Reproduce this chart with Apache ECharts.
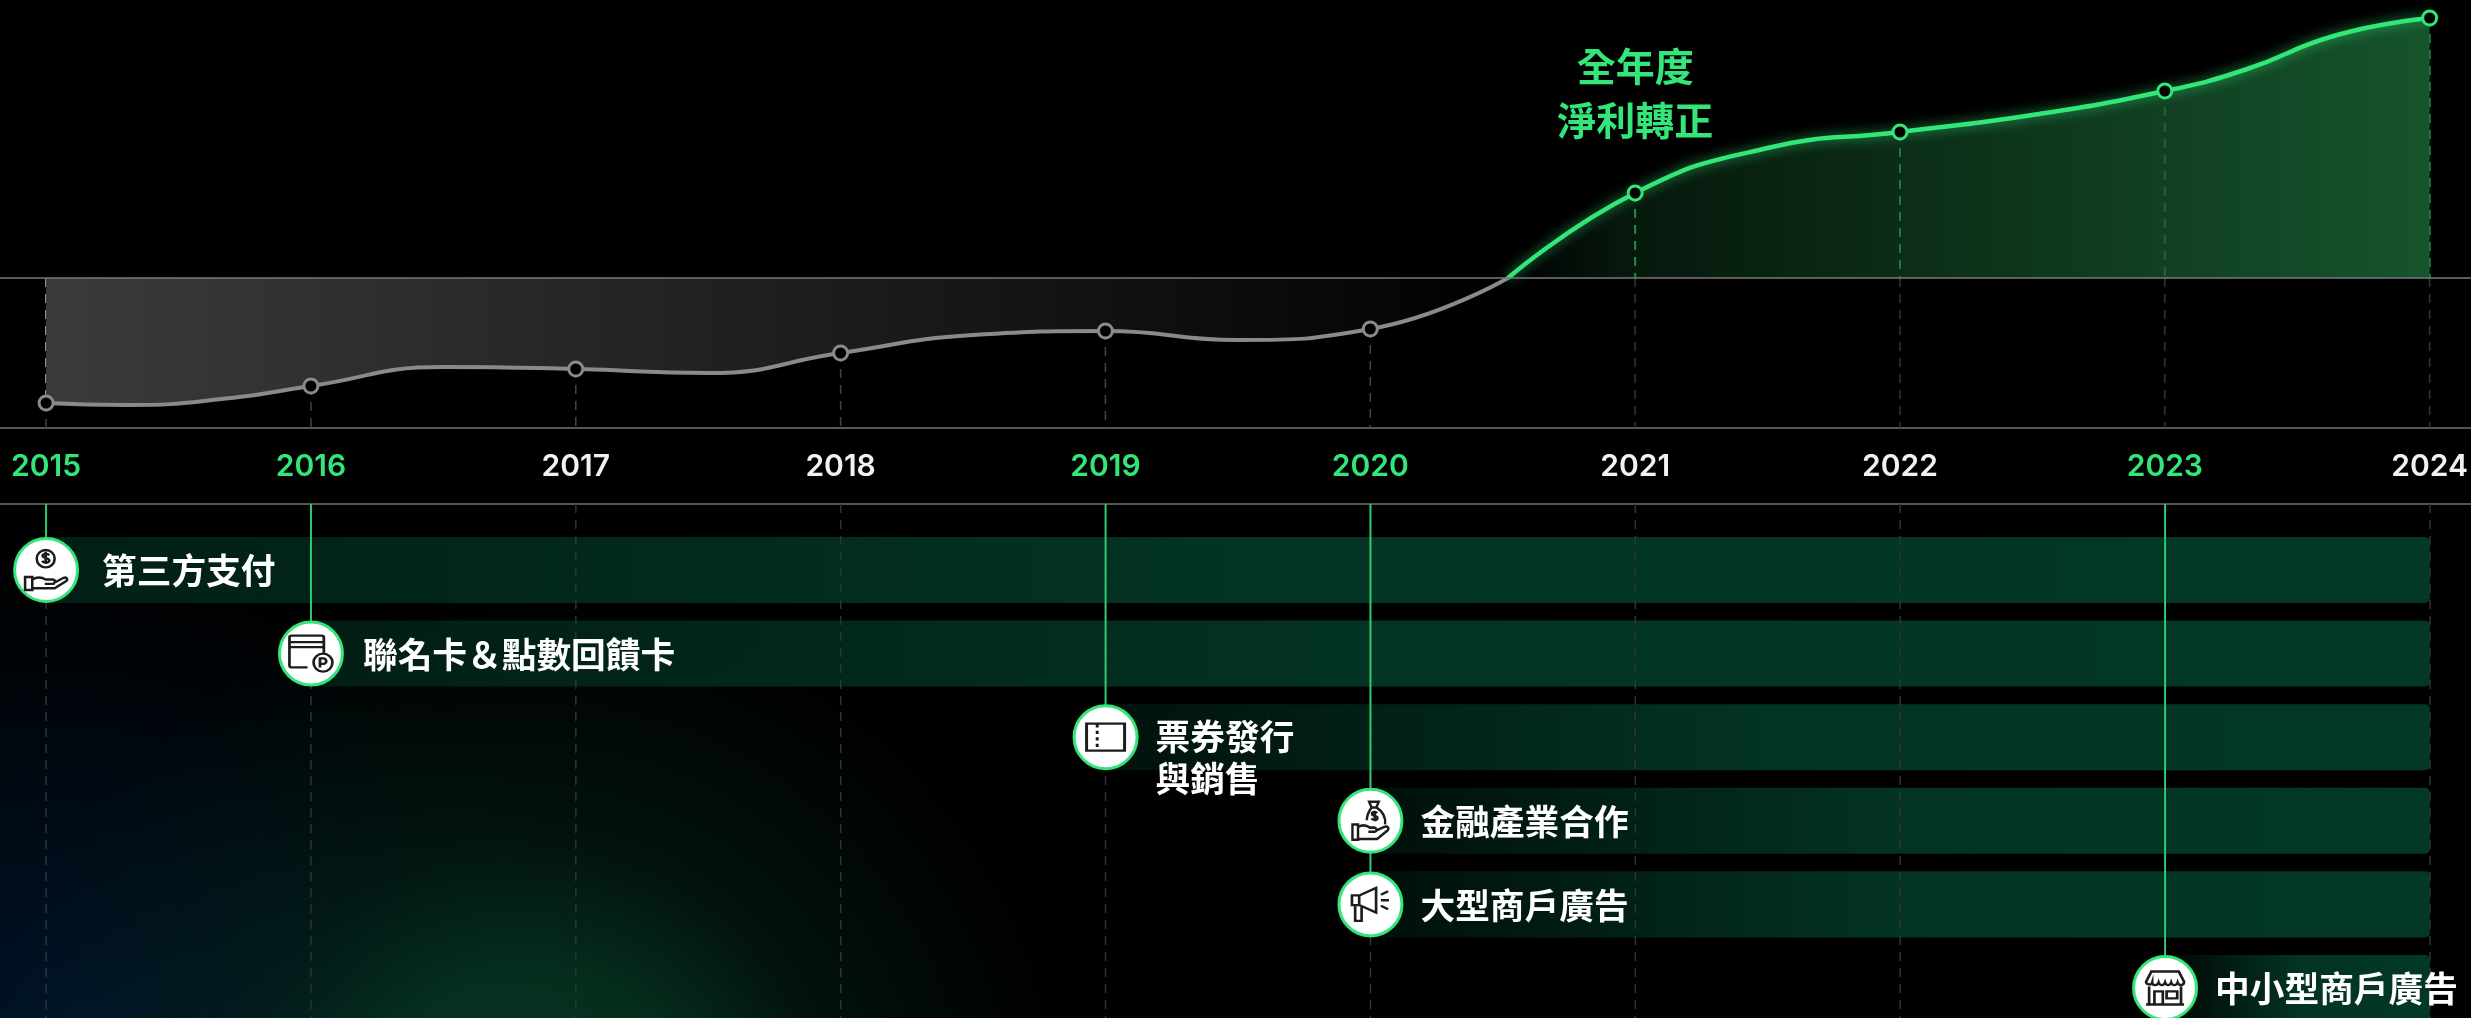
<!DOCTYPE html>
<html><head><meta charset="utf-8">
<style>html,body{margin:0;padding:0;background:#000;overflow:hidden}#c{width:2471px;height:1018px}</style>
<script src="https://cdn.jsdelivr.net/npm/echarts@6/dist/echarts.min.js"></script>
</head><body><div id="c"></div>
<script>
const years=[2015,2016,2017,2018,2019,2020,2021,2022,2023,2024];
const highlightYears=[2015,2016,2019,2020,2023];
const netValues=[-125,-108,-91,-75,-53,-51,85,146,187,260];
const lossCurveYears=[2015,2015.3,2015.7,2016,2016.5,2017,2017.5,2018,2018.5,2019,2019.5,2020,2020.52];
const lossCurveValues=[-125,-127,-120,-108,-89,-91,-95,-75,-57,-53,-62,-51,0];
const profitCurveYears=[2020.52,2021,2021.5,2022,2022.5,2023,2023.3,2023.65,2024];
const profitCurveValues=[0,85,130,146,163,187,208,243,260];
const serviceNames=['第三方支付','聯名卡＆點數回饋卡','票券發行\n與銷售','金融產業合作','大型商戶廣告','中小型商戶廣告'];
const serviceStartYears=[2015,2016,2019,2020,2020,2023];
const serviceEndYear=2024;
const noteText='全年度\n淨利轉正';
const noteAnchor=[2021,185];

const GREEN='#33e67a',GRAY='#8a8a8a';
const icons=[
 {s:[42,40],p:'M50 4a20 20 0 1 0 .01 0zM58 16c-3-4-14-4-15 1s15 5 15 11-13 6-16 1M50 8v28M4 66h16v30H4zM20 72c10-6 20-6 30 0h16c6 1 6 9 0 10H48M68 80l22-12c8-3 10 4 5 8L70 92H20'},
 {s:[43,36],p:'M5 2h70a5 5 0 0 1 5 5v40M42 80H5a5 5 0 0 1-5-5V7a5 5 0 0 1 5-5M0 18h80M0 30h80M78 46a22 22 0 1 0 .01 0zM71 80V58h8a6 6 0 0 1 0 13h-8'},
 {s:[38,27],p:'M0 0h100v100H0zM28 0v14M28 26v12M28 50v12M28 74v12M22 0h12M22 100h12'},
 {s:[36,38],p:'M46 2h24l-6 14H52zM52 16h12c16 10 24 26 22 42M40 48c0-14 6-24 12-32M66 30c-3-4-13-3-13 2s14 4 14 10-12 6-15 1M60 24v26M4 58h14v38H4zM18 64c12-6 22-4 30 2h12c6 2 6 9 0 10H44M62 74l22-10c8-3 14 3 8 9L66 94H18'},
 {s:[37,33],p:'M0 24h18v28H0zM18 24L60 2v72L18 52M8 52v46h16V56M72 22l18-10M72 38h20M72 54l18 10'},
 {s:[38,33],p:'M14 0h72l14 30c0 12-14 12-17 2-3 10-14 10-17 0-3 10-13 10-16 0-3 10-14 10-17 0-3 10-17 10-17 0-3 10-16 6-16-2zM8 44v52h84V44M0 96h100M22 96V58h22v38M54 58h28v20H54z'}
];
// horizontal scale: chosen so years land at the reference's x positions
const xMin=2014.826,xMax=2024.155;

const circleData=serviceNames.map((n,i)=>({
  value:[serviceStartYears[i],i],name:n,
  label:{offset:[i===0?6:(i===1?2:0), (n.includes('\n')?21:1)]}
}));
const iconData=serviceNames.map((n,i)=>({
  value:[serviceStartYears[i],i],symbol:'path://'+icons[i].p,symbolSize:icons[i].s
}));

const chart=echarts.init(document.getElementById('c'),null,{renderer:'canvas'});
chart.setOption({
 animation:false,
 backgroundColor:'#000',
 graphic:[
  {type:'rect',z:0,silent:true,shape:{x:0,y:504,width:1300,height:514},style:{fill:new echarts.graphic.RadialGradient(60,1100,560,[{offset:0,color:'rgba(0,26,58,0.85)'},{offset:0.45,color:'rgba(0,24,48,0.5)'},{offset:1,color:'rgba(0,18,36,0)'}],true)}},
  {type:'rect',z:1,silent:true,shape:{x:0,y:504,width:1300,height:514},style:{fill:new echarts.graphic.RadialGradient(530,1140,550,[{offset:0,color:'rgba(6,54,34,0.95)'},{offset:0.3,color:'rgba(6,54,34,0.85)'},{offset:0.55,color:'rgba(6,50,32,0.38)'},{offset:1,color:'rgba(4,40,24,0)'}],true)}}
 ],
 grid:[
  {left:0,right:0,top:0,height:428},
  {left:0,right:0,top:504,height:514}
 ],
 xAxis:[
  {type:'value',gridIndex:0,min:xMin,max:xMax,position:'bottom',splitLine:{show:false},axisTick:{show:false},
   axisLine:{show:true,onZero:false,lineStyle:{color:'#555',width:2}},
   axisLabel:{customValues:years,margin:24,hideOverlap:false,fontFamily:'Inter',fontSize:30,fontWeight:600,
     formatter:v=>String(v),color:v=>highlightYears.includes(+v)?GREEN:'#f2f2f2'}},
  {type:'value',gridIndex:1,min:xMin,max:xMax,position:'top',splitLine:{show:false},axisTick:{show:false},axisLabel:{show:false},
   axisLine:{show:true,onZero:false,lineStyle:{color:'#555',width:2}}}
 ],
 yAxis:[
  {type:'value',gridIndex:0,min:-150,max:278,show:false,splitLine:{show:false}},
  {type:'value',gridIndex:1,inverse:true,min:-0.789,max:5.359,show:false,splitLine:{show:false}}
 ],
 series:[
  {type:'line',name:'loss',xAxisIndex:0,yAxisIndex:0,z:3,smooth:0.5,symbol:'none',clip:false,
   data:lossCurveYears.map((y,i)=>[y,lossCurveValues[i]]),
   lineStyle:{color:GRAY,width:4},
   areaStyle:{origin:0,opacity:1,color:new echarts.graphic.LinearGradient(0,0,1,0,[{offset:0,color:'#3b3b3b'},{offset:0.92,color:'#060606'},{offset:1,color:'#000'}])},
   markLine:{silent:true,symbol:'none',label:{show:false},animation:false,lineStyle:{color:'#7a7a7a',width:1.5,type:'solid'},data:[{yAxis:0}]}},
  {type:'line',name:'profit',xAxisIndex:0,yAxisIndex:0,z:3,smooth:0.5,symbol:'none',clip:false,
   data:profitCurveYears.map((y,i)=>[y,profitCurveValues[i]]),
   lineStyle:{color:GREEN,width:4.5,shadowBlur:12,shadowColor:'rgba(51,230,122,0.75)'},
   areaStyle:{origin:0,opacity:1,color:new echarts.graphic.LinearGradient(0,0,1,0,[{offset:0,color:'rgba(22,84,44,0)'},{offset:0.12,color:'rgba(22,84,44,0.28)'},{offset:1,color:'rgba(22,84,44,1)'}])}},
  {type:'custom',name:'drops',xAxisIndex:0,yAxisIndex:0,z:2,clip:false,silent:true,
   data:years.map((y,i)=>[y,netValues[i]]),encode:{x:0,y:1},
   renderItem:(params,api)=>{
     const v=api.value(1),x=api.coord([api.value(0),0])[0];
     const y0=api.coord([0,0])[1],yv=api.coord([0,v])[1],yb=params.coordSys.y+params.coordSys.height;
     const L=(a,b,c,w)=>({type:'line',shape:{x1:x,y1:a,x2:x,y2:b},style:{stroke:c,lineWidth:w,lineDash:[9,7]}});
     return {type:'group',children:v<0
       ?[L(y0,yv,'#9a9a9a',2),L(yv,yb,'#444',1.5)]
       :[L(yv,y0,'#25a35a',2),L(y0,yb,'#333',1.5)]};
   }},
  {type:'scatter',name:'years',xAxisIndex:0,yAxisIndex:0,z:5,clip:false,symbolSize:14,
   data:years.map((y,i)=>({value:[y,netValues[i]],itemStyle:{color:'#000',opacity:1,borderWidth:3,borderColor:netValues[i]<0?GRAY:GREEN}}))},
  {type:'scatter',name:'note',xAxisIndex:0,yAxisIndex:0,z:6,symbolSize:1,itemStyle:{color:'rgba(0,0,0,0)',opacity:1},
   data:[{value:noteAnchor}],
   label:{show:true,position:'inside',opacity:1,formatter:()=>noteText,color:GREEN,fontFamily:'Noto Sans CJK TC',fontSize:39,fontWeight:700,lineHeight:54,align:'center',verticalAlign:'middle'}},
  {type:'custom',name:'bars',xAxisIndex:1,yAxisIndex:1,z:2,clip:true,silent:true,
   data:serviceStartYears.map((s,i)=>[s,serviceEndYear,i]),encode:{x:[0,1],y:2},
   renderItem:(params,api)=>{
     const a=api.coord([api.value(0),api.value(2)]),b=api.coord([api.value(1),api.value(2)]);
     const h=api.size([0,1])[1]*0.79;
     const len=api.value(1)-api.value(0);
     const start=0.05+0.5*len/9;
     return {type:'rect',shape:{x:a[0],y:a[1]-h/2,width:b[0]-a[0],height:h,r:[0,5,5,0]},
       style:{fill:new echarts.graphic.LinearGradient(0,0,1,0,[{offset:0,color:`rgba(3,56,38,${start})`},{offset:0.5,color:'rgba(3,56,38,0.92)'},{offset:1,color:'rgba(3,56,38,1)'}])}};
   }},
  {type:'custom',name:'guides',xAxisIndex:1,yAxisIndex:1,z:3,clip:true,silent:true,
   data:years.map(y=>[y,serviceStartYears.lastIndexOf(y)]),encode:{x:0,y:1},
   renderItem:(params,api)=>{
     const yr=api.value(0),row=api.value(1),x=api.coord([yr,0])[0];
     const top=params.coordSys.y,bot=top+params.coordSys.height;
     const kids=[{type:'line',shape:{x1:x,y1:top,x2:x,y2:bot},style:{stroke:'#333',lineWidth:1.5,lineDash:[9,7]}}];
     if(row>=0){const yc=api.coord([yr,row])[1];kids.push({type:'line',shape:{x1:x,y1:top,x2:x,y2:yc},style:{stroke:'#2fc96f',lineWidth:2}});}
     return {type:'group',children:kids};
   }},
  {type:'scatter',name:'services',xAxisIndex:1,yAxisIndex:1,z:4,clip:false,symbolSize:63,
   itemStyle:{color:'#fff',borderColor:GREEN,borderWidth:3,opacity:1},
   data:circleData,
   label:{show:true,position:'right',distance:17,opacity:1,formatter:p=>p.name,color:'#fff',fontFamily:'Noto Sans CJK TC',fontSize:34.7,fontWeight:700,lineHeight:42,align:'left',verticalAlign:'middle'}},
  {type:'scatter',name:'icons',xAxisIndex:1,yAxisIndex:1,z:5,clip:false,silent:true,
   itemStyle:{color:'rgba(0,0,0,0)',borderColor:'#1c1c1c',borderWidth:2.5,opacity:1},
   data:iconData}
 ]
});
</script></body></html>
